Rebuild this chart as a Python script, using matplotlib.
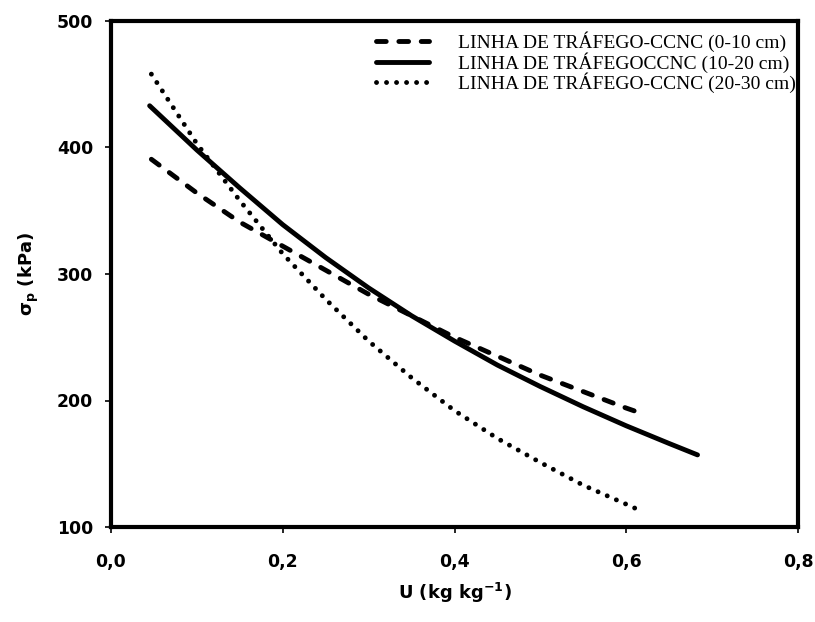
import matplotlib
matplotlib.use("Agg")
import matplotlib.pyplot as plt
from matplotlib.ticker import FixedLocator, FixedFormatter

# ---- data ----
u_010 = [0.047, 0.10, 0.15, 0.20, 0.25, 0.30, 0.35, 0.40, 0.45, 0.50, 0.55, 0.60, 0.617]
s_010 = [390.7, 364, 341, 322, 303, 284, 267, 250, 235, 220, 207, 194, 190]

u_1020 = [0.045, 0.10, 0.15, 0.20, 0.25, 0.30, 0.35, 0.40, 0.45, 0.50, 0.55, 0.60, 0.65, 0.683]
s_1020 = [433, 398, 368, 339, 313, 289, 267, 247, 228, 211, 195, 180, 166, 157]

u_2030 = [0.047, 0.10, 0.15, 0.20, 0.25, 0.30, 0.35, 0.40, 0.45, 0.50, 0.55, 0.60, 0.613]
s_2030 = [458, 403, 358, 316, 280, 247, 218, 192, 170, 151, 133, 118, 114]

labels = ["LINHA DE TRÁFEGO-CCNC (0-10 cm)",
          "LINHA DE TRÁFEGOCCNC (10-20 cm)",
          "LINHA DE TRÁFEGO-CCNC (20-30 cm)"]

xticks = [0.0, 0.2, 0.4, 0.6, 0.8]
xticklabels = ["0,0", "0,2", "0,4", "0,6", "0,8"]
yticks = [100, 200, 300, 400, 500]
yticklabels = ["100", "200", "300", "400", "500"]

plt.rcParams['mathtext.fontset'] = 'custom'
plt.rcParams['mathtext.rm'] = 'DejaVu Sans:bold'
plt.rcParams['mathtext.bf'] = 'DejaVu Sans:bold'
plt.rcParams['mathtext.it'] = 'DejaVu Sans:bold'

fig = plt.figure(figsize=(8.15, 6.22), dpi=100)
ax = fig.add_axes([111/815, 1 - 527/622, (798 - 111)/815, (527 - 21)/622])

lw = 3.5
ax.plot(u_010, s_010, color='black', lw=lw, linestyle=(0, (2.0, 2.6)),
        dash_capstyle='round', solid_capstyle='round', label=labels[0])
ax.plot(u_1020, s_1020, color='black', lw=lw, solid_capstyle='round', label=labels[1])
ax.plot(u_2030, s_2030, color='black', lw=lw, linestyle=(0, (0.01, 2.05)),
        dash_capstyle='round', label=labels[2])

ax.set_xlim(0.0, 0.8)
ax.set_ylim(100, 500)
ax.xaxis.set_major_locator(FixedLocator(xticks))
ax.xaxis.set_major_formatter(FixedFormatter(xticklabels))
ax.yaxis.set_major_locator(FixedLocator(yticks))
ax.yaxis.set_major_formatter(FixedFormatter(yticklabels))

for sp in ax.spines.values():
    sp.set_linewidth(3.0)
ax.tick_params(direction='out', length=4, width=1.2,
               labelsize=12.4, colors='black')
ax.tick_params(axis='x', pad=15)
ax.tick_params(axis='y', pad=9)
for t in ax.get_xticklabels() + ax.get_yticklabels():
    t.set_fontfamily('DejaVu Sans')
    t.set_fontweight('bold')

ax.set_xlabel('U (kg kg$^{-1}$)', fontsize=13, fontweight='bold',
              fontfamily='DejaVu Sans', labelpad=7)
ax.set_ylabel('σ$_{p}$ (kPa)', fontsize=13, fontweight='bold',
              fontfamily='DejaVu Sans', labelpad=11)

leg = ax.legend(loc='upper left', bbox_to_anchor=(0.386, 0.979), frameon=False,
                prop={'family': 'Liberation Serif', 'size': 14.0},
                handlelength=2.7, handletextpad=1.5, labelspacing=0.0,
                borderpad=0, borderaxespad=0)

fig.savefig('out.png', dpi=100)
